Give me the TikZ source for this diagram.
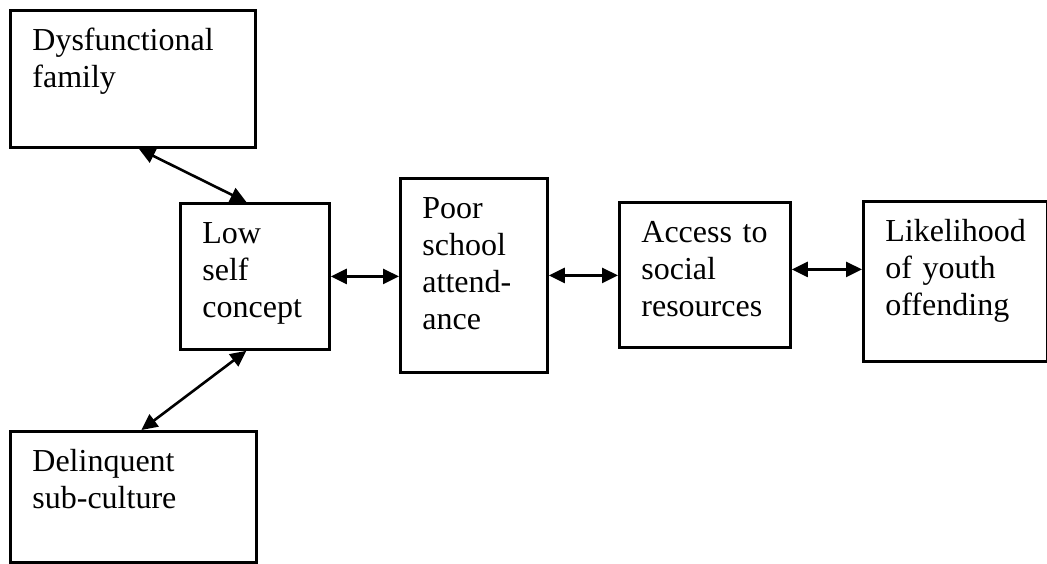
\documentclass[tikz,border=0pt]{standalone}
\usepackage{fontspec}
\setmainfont{Liberation Serif}
\usetikzlibrary{arrows.meta}

\begin{document}
\begin{tikzpicture}[x=1pt,y=1pt,
    box/.style={draw, line width=2.8pt, anchor=north west, align=left,
      inner xsep=22pt, inner ysep=0pt, text height=40pt,
      font=\fontsize{32}{37}\selectfont},
    link/.style={{Triangle[length=16pt,width=15pt]}-{Triangle[length=16pt,width=15pt]},
      line width=2.6pt}]
  \useasboundingbox (0,0) rectangle (1047,-563);
  \draw
    (9,-9) node[box, text width=201pt, text depth=97pt] (fam) {Dysfunctional\\family}
    (179,-202) node[box, text width=105pt, text depth=106pt] (low) {Low\\self\\concept}
    (399,-177) node[box, text width=103pt, text depth=154pt] (poor) {Poor\\school\\attend-\\ance}
    (618,-201) node[box, text width=127pt, text depth=105pt] (access) {Access to\\social\\resources}
    (862,-200) node[box, text width=140pt, text depth=120pt] (youth) {Likelihood\\of youth\\offending}
    (9,-430) node[box, text width=202pt, text depth=91pt] (delinq) {Delinquent\\sub-culture};
  \begin{scope}[link]
    \draw ([xshift=6pt]fam.south) to ([xshift=-8.5pt]low.north);
    \draw ([xshift=-8.5pt]low.south) to ([xshift=8pt]delinq.north);
    \draw (low.east) to (low.east -| poor.west);
    \draw (poor.east) to (poor.east -| access.west);
    \draw ([yshift=5.5pt]access.east) to ([yshift=5.5pt]access.east -| youth.west);
  \end{scope}
\end{tikzpicture}
\end{document}
